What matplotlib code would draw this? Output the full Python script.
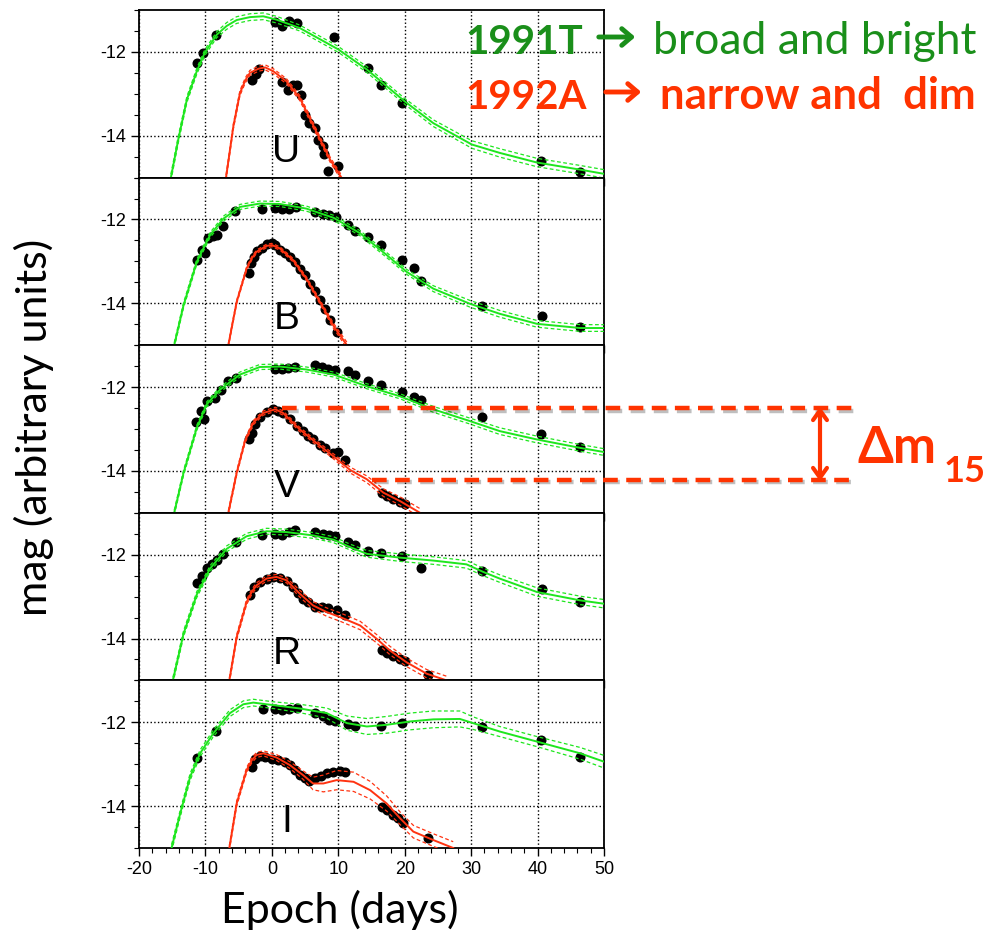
import numpy as np
import matplotlib
matplotlib.use("Agg")
import matplotlib.pyplot as plt
import matplotlib.patheffects as pe
from matplotlib.patches import FancyArrowPatch
from matplotlib.ticker import MultipleLocator

plt.rcParams["axes.unicode_minus"] = False

W, H = 988, 933
GREEN = "#1ee61e"
RED = "#ff3311"
TXT_GREEN = "#1a8f1a"
TXT_RED = "#ff3300"

# ---- U band ----
u_g_t = [-15.2, -14.1, -12.8, -11.3, -10.1, -8.3, -6.8, -5.3, -3.3, -1.3, 0.7, 4.2, 10.0, 14.3, 20.0, 24.3, 30.1, 34.3, 39.9, 46.4, 50]
u_g_m = [-15.0, -14.1, -13.14, -12.46, -12.02, -11.59, -11.38, -11.24, -11.17, -11.15, -11.23, -11.43, -11.94, -12.42, -13.18, -13.70,
         -14.21, -14.41, -14.64, -14.81, -14.91]
u_g_e = [0.08, 0.08, 0.07, 0.07, 0.07, 0.07, 0.08, 0.08, 0.08, 0.08, 0.08, 0.07, 0.07, 0.07, 0.07, 0.08, 0.09, 0.1, 0.1, 0.1, 0.1]
u_r_t = [-6.9, -5.8, -4.8, -4.0, -3.3, -2.0, -1.0, 0.2, 2.2, 4.2, 5.7, 7.3, 8.8, 10.4]
u_r_m = [-15.0, -13.78, -12.98, -12.68, -12.50, -12.40, -12.37, -12.46, -12.70, -13.10, -13.58, -14.10, -14.58, -14.98]
u_r_e = [0.06] * 14
u_gd_t = [-11.32, -10.42, -8.46, 0.47, 1.48, 2.63, 3.73, 9.40, 14.42, 16.38, 19.54, 40.51, 46.38]
u_gd_m = [-12.26, -12.02, -11.60, -11.29, -11.37, -11.27, -11.32, -11.65, -12.38, -12.78, -13.22, -14.61, -14.86]
u_rd_t = [-3.04, -2.39, -1.89, 1.48, 2.48, 3.13, 3.83, 4.39, 4.99, 5.59, 6.49, 7.0, 7.65, 7.85, 8.40, 9.90]
u_rd_m = [-12.66, -12.52, -12.41, -12.73, -12.90, -12.80, -12.78, -13.04, -13.50, -13.70, -13.82, -14.10, -14.25, -14.44, -14.84, -14.73]

# ---- B band ----
b_g_t = [-14.7, -13.3, -11.3, -9.3, -7.3, -4.8, -1.8, 1.2, 5.2, 9.3, 13.3, 17.3, 20.3, 24.3, 29.8, 34.3, 39.9, 46.4, 50]
b_g_m = [-15.0, -14.05, -13.01, -12.37, -11.98, -11.70, -11.62, -11.63, -11.74, -11.96, -12.33, -12.85, -13.25, -13.65, -14.01, -14.25, -14.49, -14.59, -14.59]
b_g_e = [0.06] * 13 + [0.07, 0.08, 0.08, 0.08, 0.08, 0.08]
b_r_t = [-6.55, -5.3, -3.8, -3.0, -2.3, -0.8, 0.0, 1.2, 3.2, 5.2, 7.25, 9.25, 11.3]
b_r_m = [-15.0, -13.97, -13.17, -12.92, -12.77, -12.63, -12.61, -12.69, -12.97, -13.41, -13.97, -14.53, -15.0]
b_r_e = [0.04] * 10 + [0.05, 0.06, 0.07]
b_gd_t = [-11.32, -10.57, -10.07, -9.56, -8.91, -8.31, -7.31, -5.55, -1.43, 0.47, 1.48, 2.63, 3.63, 6.49, 7.65, 8.65, 9.60,
          11.51, 12.51, 14.42, 16.43, 19.54, 21.39, 22.40, 31.58, 40.61, 46.38]
b_gd_m = [-12.97, -12.73, -12.80, -12.45, -12.39, -12.36, -12.16, -11.80, -11.76, -11.72, -11.74, -11.74, -11.70, -11.83, -11.86,
          -11.90, -11.95, -12.12, -12.27, -12.41, -12.60, -12.97, -13.15, -13.47, -14.07, -14.30, -14.57]
b_rd_t = [-3.44, -3.19, -2.69, -2.19, -1.54, -0.78, -0.03, 0.47, 1.22, 1.98, 2.73, 3.48, 4.24, 4.99, 5.74, 6.49, 7.25, 8.0, 8.75, 9.85]
b_rd_m = [-13.27, -13.03, -12.89, -12.75, -12.68, -12.59, -12.56, -12.61, -12.73, -12.81, -12.89, -13.01, -13.17, -13.33, -13.53,
          -13.71, -13.93, -14.13, -14.41, -14.69]

# ---- V band ----
v_g_t = [-14.7, -13.3, -11.3, -9.8, -7.8, -4.8, -1.8, 1.2, 5.2, 9.3, 14.3, 19.3, 24.3, 29.8, 34.3, 39.9, 46.4, 50]
v_g_m = [-15.0, -14.05, -12.97, -12.41, -12.06, -11.70, -11.52, -11.51, -11.58, -11.70, -11.98, -12.22, -12.53, -12.81, -13.05, -13.25, -13.45, -13.55]
v_g_e = [0.06] * 12 + [0.07, 0.07, 0.08, 0.08, 0.08, 0.08]
v_r_t = [-6.55, -5.3, -4.05, -2.8, -1.3, 0.5, 1.7, 4.2, 6.7, 9.25, 11.8, 14.3, 16.8, 19.3, 22.3]
v_r_m = [-15.0, -14.05, -13.29, -12.85, -12.62, -12.53, -12.62, -13.01, -13.33, -13.65, -13.98, -14.20, -14.52, -14.72, -15.0]
v_r_e = [0.05] * 9 + [0.06, 0.07, 0.08, 0.09, 0.1, 0.1]
v_gd_t = [-11.42, -10.67, -10.17, -9.81, -8.56, -7.71, -6.55, -5.40, 0.47, 1.48, 2.48, 3.48, 6.49, 7.50, 8.50, 9.50, 11.51,
          12.51, 14.42, 16.43, 19.54, 21.39, 22.40, 31.58, 40.51, 46.38]
v_gd_m = [-12.84, -12.57, -12.75, -12.33, -12.27, -12.06, -11.86, -11.78, -11.56, -11.56, -11.54, -11.51, -11.48, -11.51, -11.56,
          -11.60, -11.62, -11.72, -11.86, -11.95, -12.12, -12.23, -12.31, -12.72, -13.12, -13.42]
v_rd_t = [-3.39, -3.04, -2.54, -1.79, -0.78, 0.22, 0.97, 1.73, 2.73, 3.73, 4.74, 5.49, 6.24, 7.25, 8.0, 9.25, 10.0, 11.0,
          16.53, 17.28, 18.28, 19.29, 20.04]
v_rd_m = [-13.25, -13.09, -12.87, -12.71, -12.60, -12.53, -12.56, -12.63, -12.77, -12.92, -13.05, -13.17, -13.25, -13.37, -13.45,
          -13.57, -13.55, -13.75, -14.53, -14.59, -14.67, -14.74, -14.78]

# ---- R band ----
r_g_t = [-14.9, -13.3, -11.3, -9.3, -6.8, -3.8, -0.8, 2.2, 6.2, 9.25, 11.8, 14.3, 19.3, 24.3, 29.3, 31.8, 34.3, 39.9, 46.4, 50]
r_g_m = [-15.0, -13.89, -12.95, -12.33, -11.86, -11.56, -11.44, -11.46, -11.54, -11.64, -11.82, -11.98, -12.07, -12.14, -12.23,
         -12.41, -12.57, -12.89, -13.09, -13.17]
r_g_e = [0.07] * 11 + [0.08, 0.09, 0.09, 0.09, 0.09, 0.09, 0.1, 0.1, 0.1]
r_r_t = [-6.4, -5.3, -3.8, -3.0, -2.3, -0.8, 0.7, 2.2, 4.2, 6.2, 8.25, 10.3, 13.3, 15.8, 17.8, 20.3, 23.3, 26.3]
r_r_m = [-15.0, -13.97, -13.13, -12.88, -12.73, -12.57, -12.53, -12.61, -12.93, -13.21, -13.37, -13.49, -13.69, -14.01, -14.29,
         -14.57, -14.84, -15.0]
r_r_e = [0.06] * 8 + [0.08, 0.09, 0.1, 0.1, 0.1, 0.1, 0.1, 0.1, 0.1, 0.1]
r_gd_t = [-11.32, -10.47, -9.71, -8.96, -8.31, -7.31, -5.40, -1.43, 0.47, 1.48, 2.63, 3.48, 6.49, 7.65, 8.65, 9.50, 11.51,
          12.51, 14.42, 16.43, 19.54, 22.40, 31.58, 40.61, 46.38]
r_gd_m = [-12.68, -12.51, -12.32, -12.22, -12.12, -11.98, -11.70, -11.54, -11.50, -11.54, -11.46, -11.42, -11.46, -11.50, -11.52,
          -11.56, -11.70, -11.78, -11.90, -11.96, -12.04, -12.32, -12.39, -12.83, -13.12]
r_rd_t = [-3.29, -2.69, -1.79, -0.78, 0.22, 1.22, 2.23, 3.23, 3.98, 4.74, 5.49, 6.49, 7.50, 8.50, 9.75, 11.01, 16.53, 17.28,
          18.28, 19.29, 20.04, 23.55]
r_rd_m = [-12.95, -12.77, -12.65, -12.57, -12.53, -12.56, -12.63, -12.77, -12.92, -13.05, -13.13, -13.24, -13.25, -13.27, -13.33,
          -13.43, -14.27, -14.34, -14.42, -14.49, -14.54, -14.88]

# ---- I band ----
i_g_t = [-15.1, -13.8, -12.3, -10.8, -8.8, -6.3, -4.3, -2.8, 0.2, 4.2, 8.25, 11.3, 14.3, 17.3, 20.8, 24.3, 28.3, 30.3, 34.3, 39.9, 46.4, 50]
i_g_m = [-15.0, -14.18, -13.30, -12.74, -12.26, -11.78, -11.57, -11.53, -11.59, -11.67, -11.78, -12.02, -12.10, -12.06, -11.98,
         -11.93, -11.92, -12.02, -12.22, -12.46, -12.74, -12.94]
i_g_e = [0.08, 0.08, 0.08, 0.08, 0.08, 0.08, 0.08, 0.08, 0.08, 0.1, 0.12, 0.17, 0.19, 0.2, 0.2, 0.2, 0.19, 0.15, 0.12, 0.12, 0.14, 0.15]
i_r_t = [-6.4, -5.3, -3.8, -3.0, -2.3, -1.3, 0.7, 2.7, 4.7, 6.2, 7.75, 9.75, 12.3, 14.8, 17.3, 19.3, 21.3, 24.3, 27.3]
i_r_m = [-15.0, -13.94, -13.14, -12.90, -12.78, -12.74, -12.84, -13.02, -13.26, -13.46, -13.46, -13.38, -13.42, -13.62, -13.94,
         -14.29, -14.61, -14.81, -15.0]
i_r_e = [0.06, 0.06, 0.06, 0.06, 0.06, 0.06, 0.07, 0.08, 0.1, 0.15, 0.2, 0.23, 0.23, 0.21, 0.18, 0.15, 0.15, 0.15, 0.15]
i_gd_t = [-11.32, -8.46, -1.38, 0.47, 1.48, 2.63, 3.73, 6.49, 7.65, 8.65, 9.50, 11.51, 12.51, 16.43, 19.54, 31.58, 40.51, 46.38]
i_gd_m = [-12.86, -12.21, -11.69, -11.69, -11.71, -11.69, -11.67, -11.78, -11.86, -11.94, -11.98, -12.05, -12.09, -12.08, -12.01,
          -12.12, -12.42, -12.84]
i_rd_t = [-3.04, -2.54, -1.79, -1.03, -0.03, 0.97, 1.98, 2.73, 3.48, 4.24, 4.99, 5.64, 6.49, 7.35, 8.25, 9.25, 10.26, 11.01,
          16.53, 17.28, 18.28, 19.04, 19.79, 23.55]
i_rd_m = [-13.06, -12.88, -12.80, -12.84, -12.88, -12.90, -12.94, -13.02, -13.14, -13.26, -13.34, -13.39, -13.34, -13.28, -13.22,
          -13.18, -13.16, -13.18, -14.02, -14.10, -14.22, -14.29, -14.40, -14.77]

bands = ["U", "B", "V", "R", "I"]
fits_91t = [(u_g_t, u_g_m, u_g_e), (b_g_t, b_g_m, b_g_e), (v_g_t, v_g_m, v_g_e), (r_g_t, r_g_m, r_g_e), (i_g_t, i_g_m, i_g_e)]
fits_92a = [(u_r_t, u_r_m, u_r_e), (b_r_t, b_r_m, b_r_e), (v_r_t, v_r_m, v_r_e), (r_r_t, r_r_m, r_r_e), (i_r_t, i_r_m, i_r_e)]
obs_91t = [(u_gd_t, u_gd_m), (b_gd_t, b_gd_m), (v_gd_t, v_gd_m), (r_gd_t, r_gd_m), (i_gd_t, i_gd_m)]
obs_92a = [(u_rd_t, u_rd_m), (b_rd_t, b_rd_m), (v_rd_t, v_rd_m), (r_rd_t, r_rd_m), (i_rd_t, i_rd_m)]

# delta m15 on the V panel: peak level and 15 days later
dm15_peak = -12.51
dm15_after = -14.21
dm15_t0 = [1.5, 15.0]


def fx(x):
    return x / W


def fy(y):
    return 1 - y / H


def draw_fit(ax, t, m, e, color):
    t = np.array(t)
    m = np.array(m)
    e = np.array(e)
    ax.plot(t, m, color=color, lw=1.4, zorder=4)
    ax.plot(t, m + e, color=color, lw=0.9, ls=(0, (3, 2)), zorder=4)
    ax.plot(t, m - e, color=color, lw=0.9, ls=(0, (3, 2)), zorder=4)


fig = plt.figure(figsize=(W / 100, H / 100), dpi=100)

left, right = 139, 604
top, bottom = 10, 848
ph = (bottom - top) / 5
axes = []
for k, band in enumerate(bands):
    y0 = top + ph * (k + 1)
    ax = fig.add_axes([fx(left), fy(y0), (right - left) / W, ph / H])
    axes.append(ax)

    ax.plot(*obs_91t[k], "o", color="black", ms=6.2, zorder=3)
    ax.plot(*obs_92a[k], "o", color="black", ms=6.2, zorder=3)
    draw_fit(ax, *fits_91t[k], GREEN)
    draw_fit(ax, *fits_92a[k], RED)

    ax.set_xlim(-20, 50)
    ax.set_ylim(-15, -11)
    ax.xaxis.set_major_locator(MultipleLocator(10))
    ax.xaxis.set_minor_locator(MultipleLocator(2))
    ax.yaxis.set_major_locator(MultipleLocator(2))
    ax.yaxis.set_minor_locator(MultipleLocator(0.5))
    ax.grid(True, which="major", color="black", ls=":", lw=1.0)
    ax.tick_params(which="major", direction="out", length=6, width=1.0, labelsize=13, pad=3)
    ax.tick_params(which="minor", direction="out", length=3.5, width=0.8)
    for lab in ax.get_yticklabels() + ax.get_xticklabels():
        lab.set_fontfamily("Liberation Sans")
    if k < 4:
        ax.tick_params(labelbottom=False)
    for s in ax.spines.values():
        s.set_linewidth(1.3)
    ax.text(2.2, -14.38, band, fontsize=28, family="Liberation Sans", ha="center", va="center", zorder=5)

# delta m15 lines on V panel (run past the axes)
axv = axes[2]
shadow = [pe.SimpleLineShadow(offset=(1.5, -2), alpha=0.25), pe.Normal()]
for t0, mval in zip(dm15_t0, [dm15_peak, dm15_after]):
    axv.plot([t0, 87.5], [mval, mval], color=TXT_RED, lw=3.2, ls=(0, (3.3, 1.9)),
             clip_on=False, zorder=6, path_effects=shadow)

fig.add_artist(FancyArrowPatch(
    (fx(820), fy(404)), (fx(820), fy(484)), transform=fig.transFigure,
    arrowstyle="<->,head_length=7,head_width=5", color=TXT_RED, lw=3))

tfam = ["Lato", "DejaVu Sans"]
fig.text(fx(857), fy(463), "Δm", color=TXT_RED, fontsize=37, fontweight="bold", family=tfam, va="baseline")
fig.text(fx(944), fy(482), "15", color=TXT_RED, fontsize=26, fontweight="bold", family=tfam, va="baseline")

# annotation at top right
fig.text(fx(465), fy(54), "1991T", color=TXT_GREEN, fontsize=29, fontweight="bold", family=tfam, va="baseline")
fig.text(fx(653), fy(54), "broad and bright", color=TXT_GREEN, fontsize=32, family=tfam, va="baseline")
fig.text(fx(465), fy(109), "1992A", color=TXT_RED, fontsize=29, fontweight="bold", family=tfam, va="baseline")
fig.text(fx(660), fy(109), "narrow and  dim", color=TXT_RED, fontsize=31.5, fontweight="bold", family=tfam, va="baseline")
for (x0, x1, yy, c) in [(596, 638, 37, TXT_GREEN), (603, 644, 92, TXT_RED)]:
    fig.add_artist(FancyArrowPatch(
        (fx(x0), fy(yy)), (fx(x1), fy(yy)), transform=fig.transFigure,
        arrowstyle="->,head_length=7,head_width=6", color=c, lw=3.5))

fig.text(fx(34), fy(427), "mag (arbitrary units)", fontsize=31, family=tfam, rotation=90, ha="center", va="center")
fig.text(fx(340), fy(910), "Epoch (days)", fontsize=31, family=tfam, ha="center", va="center")

fig.savefig("out.png", dpi=100)
